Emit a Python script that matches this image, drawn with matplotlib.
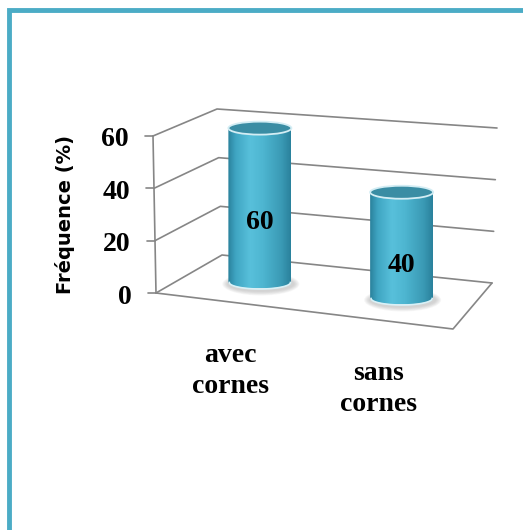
import numpy as np
import matplotlib.pyplot as plt
from matplotlib.patches import Ellipse, PathPatch
from matplotlib.path import Path
from matplotlib.colors import LinearSegmentedColormap

# data
categories = ['avec\ncornes', 'sans\ncornes']
values = [60, 40]
y_ticks = [0, 20, 40, 60]
y_label = 'Fréquence (%)'
z_max = 60

# corners of the 3D box on screen (pixels, y down)
FBL, FBR = np.array([156, 293]), np.array([453, 329])
BBL, BBR = np.array([222, 255]), np.array([492, 283])
FTL, FTR = np.array([153, 136]), np.array([457, 162])
BTL, BTR = np.array([217, 109]), np.array([497, 128])


def lerp(a, b, t):
    return a + (b - a) * t


def proj(u, d, z):
    # trilinear interpolation: u across, d depth (0 front), z value
    bottom = lerp(lerp(FBL, FBR, u), lerp(BBL, BBR, u), d)
    top = lerp(lerp(FTL, FTR, u), lerp(BTL, BTR, u), d)
    return lerp(bottom, top, z / z_max)


fig = plt.figure(figsize=(5.23, 5.30), dpi=100)
ax = fig.add_axes([0, 0, 1, 1])
ax.axis('off')

grid_kw = dict(color='#868686', lw=1.2, solid_capstyle='round', zorder=1)

# walls and floor
for t in y_ticks:
    p0, p1, p2 = proj(0, 0, t), proj(0, 1, t), proj(1, 1, t)
    ax.plot([p0[0], p1[0], p2[0]], [p0[1], p1[1], p2[1]], **grid_kw)
    ax.plot([p0[0] - 8, p0[0]], [p0[1], p0[1]], **grid_kw)
    ax.text(p0[0] - 24, p0[1] + 4, str(t), ha='right', va='center',
            fontsize=20, fontweight='bold', family='Liberation Serif')
a, b = proj(0, 0, 0), proj(0, 0, z_max)
ax.plot([a[0], b[0]], [a[1], b[1]], **grid_kw)
f0, f1, f2 = proj(0, 0, 0), proj(1, 0, 0), proj(1, 1, 0)
ax.plot([f0[0], f1[0], f2[0]], [f0[1], f1[1], f2[1]], **grid_kw)

# y title
ax.text(65, 215, y_label, rotation=90, ha='center', va='center',
        fontsize=14, fontweight='bold', family='DejaVu Sans')

# cylinders
cmap = LinearSegmentedColormap.from_list('cyl', [
    (0.0, '#2a819c'), (0.12, '#3fa5c2'), (0.35, '#58c0db'),
    (0.55, '#4eb6d1'), (0.85, '#3a9ab5'), (1.0, '#2a819c')])
grad = np.linspace(0, 1, 256).reshape(1, -1)
w, e = 31.5, 6.5
n = len(values)
for i, (cat, v) in enumerate(zip(categories, values)):
    u = (i + 0.5) / n
    cb = proj(u, 0.5, 0)
    ct = proj(u, 0.5, v)
    cx, by, ty = cb[0], cb[1], ct[1]

    # soft shadow
    for k in range(6):
        ax.add_patch(Ellipse((cx + 1, by + 2), 2 * w + 14 - 2 * k, 2 * e + 10 - 1.5 * k,
                             facecolor='#8a8a8a', edgecolor='none', alpha=0.07, zorder=2))

    th = np.linspace(np.pi, 0, 60)
    verts = [(cx - w, ty)] + [(cx + w * np.cos(t), by + e * np.sin(t)) for t in th] + [(cx + w, ty), (cx - w, ty)]
    body = Path(verts)
    patch = PathPatch(body, facecolor='none', edgecolor='none', zorder=3)
    ax.add_patch(patch)
    im = ax.imshow(grad, cmap=cmap, extent=(cx - w, cx + w, by + e, ty - e),
                   aspect='auto', zorder=3, interpolation='bilinear')
    im.set_clip_path(patch)

    # light rim at the bottom
    ax.plot(cx + w * 0.97 * np.cos(th), by + e * np.sin(th) + 0.5, color='#d9f1f7', lw=1.2, zorder=4)
    # top face
    ax.add_patch(Ellipse((cx, ty), 2 * w, 2 * e, facecolor='#3a8da4',
                         edgecolor='#d3edf4', lw=1.3, zorder=5))

    # value label: bar centre, height taken on the front plane
    lp = proj(u, 0, v / 2)
    ax.text(cx, lp[1], str(v), ha='center', va='center', fontsize=20,
            fontweight='bold', family='Liberation Serif', zorder=6)

    # category label under the front edge
    fp = proj(u, 0, 0)
    ax.text(fp[0], fp[1] + 41, cat, ha='center', va='top', fontsize=20,
            fontweight='bold', family='Liberation Serif', linespacing=1.3)

# chart border (only top and left visible)
ax.plot([9, 9, 523], [530, 10, 10], color='#4bacc6', lw=3.5, solid_joinstyle='miter', zorder=7)

ax.set_xlim(0, 523)
ax.set_ylim(530, 0)
fig.savefig('out.png', dpi=100, facecolor='white')
